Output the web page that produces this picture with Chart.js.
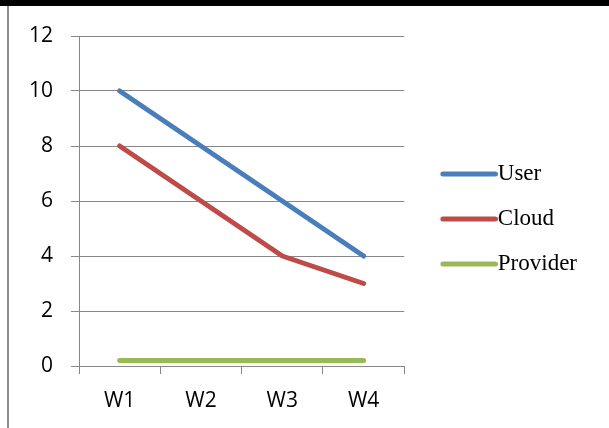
<!DOCTYPE html>
<html>
<head>
<meta charset="utf-8">
<script src="https://cdn.jsdelivr.net/npm/chart.js@4/dist/chart.umd.min.js"></script>
<style>
  html, body { margin: 0; padding: 0; background: #fff; }
  #wrap { position: relative; width: 609px; height: 428px; overflow: hidden; }
  #topbar { position: absolute; left: 0; top: 0; width: 609px; height: 6px; background: #000; }
  #leftline { position: absolute; left: 7px; top: 6px; width: 2px; height: 422px; background: #8c8c8c; }
  #c { position: absolute; left: 0; top: 0; }
</style>
</head>
<body>
<div id="wrap">
  <canvas id="c" width="609" height="428"></canvas>
  <div id="topbar"></div>
  <div id="leftline"></div>
</div>
<script>
// data
let weeks = ['W1', 'W2', 'W3', 'W4']
let userVals = [10, 8, 6, 4]
let cloudVals = [8, 6, 4, 3]
let providerVals = [0.2, 0.2, 0.2, 0.2]
let yTicks = [0, 2, 4, 6, 8, 10, 12]

let gridColor = '#878787'
let legendSize = 23
let sampleW = 46

// legend sample: line runs right up to the text
function lineSample(color){
    let cv = document.createElement('canvas')
    cv.width = sampleW + legendSize
    cv.height = 8
    let g = cv.getContext('2d')
    g.strokeStyle = color
    g.lineWidth = 5
    g.lineCap = 'round'
    g.beginPath()
    g.moveTo(legendSize / 2 + 2.5, 4)
    g.lineTo(cv.width - 2.5, 4)
    g.stroke()
    return cv
}

function mkSet(label, values, color){
    return {
        label: label,
        data: values,
        borderColor: color,
        backgroundColor: color,
        borderWidth: 5,
        borderCapStyle: 'round',
        borderJoinStyle: 'round',
        pointRadius: 0,
        tension: 0,
        fill: false
    }
}

let data = {
    labels: weeks,
    datasets: [
        mkSet('User', userVals, '#4a7ebb'),
        mkSet('Cloud', cloudVals, '#be4b48'),
        mkSet('Provider', providerVals, '#98b954')
    ]
}

let config = {
    type: 'line',
    data,
    options: {
        responsive: false,
        animation: false,
        layout: { padding: { left: 11, top: 36, right: 22, bottom: 4 } },
        plugins: {
            tooltip: { enabled: false },
            legend: {
                position: 'right',
                align: 'center',
                fullSize: false,
                maxWidth: 260,
                // empty title just nudges the items down a little
                title: { display: true, text: ' ', padding: 0, font: { size: 30, lineHeight: 1.2 } },
                labels: {
                    usePointStyle: true,
                    pointStyleWidth: sampleW,
                    padding: 22,
                    color: '#000',
                    font: { family: '"Liberation Serif", "Times New Roman", serif', size: legendSize, lineHeight: 1 },
                    generateLabels: function(chart){
                        let items = Chart.defaults.plugins.legend.labels.generateLabels(chart)
                        items.forEach(it => { it.pointStyle = lineSample(it.strokeStyle) })
                        return items
                    }
                }
            }
        },
        scales: {
            x: {
                offset: true,
                grid: { offset: true, drawOnChartArea: false, color: gridColor, tickLength: 8 },
                border: { color: gridColor },
                ticks: { color: '#000', padding: 14.4, font: { family: '"Open Sans", sans-serif', size: 21 } },
                afterFit: function(axis){ axis.height = 58 }
            },
            y: {
                min: 0,
                max: 12,
                afterBuildTicks: function(axis){
                    axis.ticks = yTicks.map(v => ({ value: v }))
                },
                grid: { color: gridColor, tickLength: 8 },
                border: { color: gridColor },
                ticks: { color: '#000', padding: 18, font: { family: '"Open Sans", sans-serif', size: 21 } }
            },
            gap: {
                position: 'right',
                display: true,
                grid: { display: false },
                border: { display: false },
                ticks: { display: false },
                afterFit: function(axis){ axis.width = 14 }
            }
        }
    }
}

let myChart = new Chart(document.getElementById('c'), config)
</script>
</body>
</html>
